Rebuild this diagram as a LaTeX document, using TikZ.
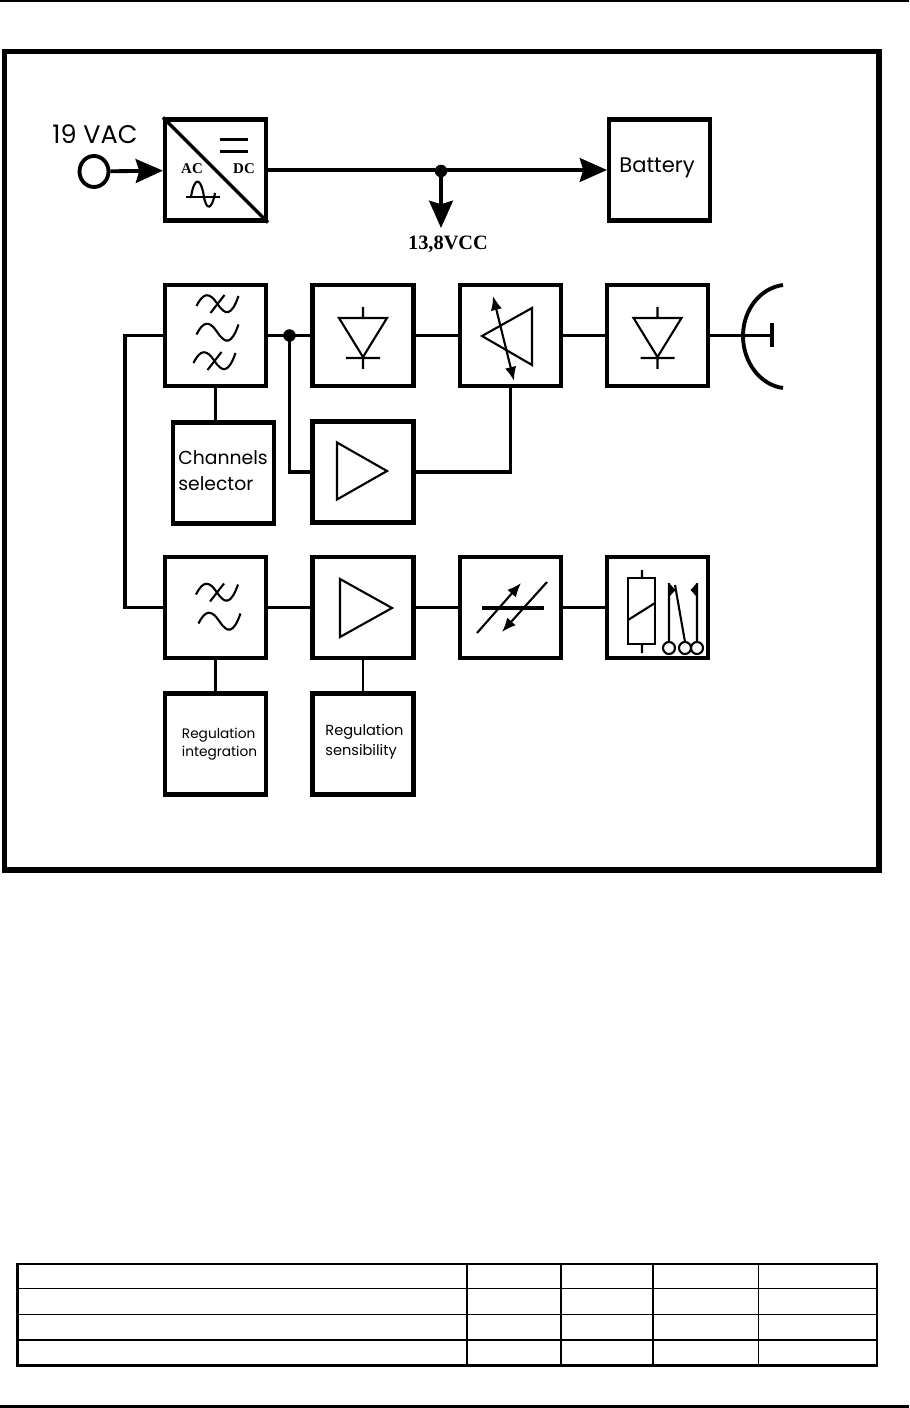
\documentclass[tikz,border=0pt]{standalone}
\usepackage{fontspec}
\setmainfont{Poppins}
\newfontfamily\labelserif{Liberation Serif}
\usetikzlibrary{arrows.meta,positioning,shapes.geometric,calc}
\tikzset{
  block/.style={draw, line width=2.3pt, minimum size=2.02cm, inner sep=0pt},
  wire/.style={line width=2.2pt},
  thinwire/.style={line width=1.2pt},
  sym/.style={line width=1.2pt, line join=miter},
  dot/.style={circle, fill=black, minimum size=0.25cm, inner sep=0pt},
  bigtip/.style={-{Stealth[length=15.5pt,width=13.5pt,inset=2pt]}},
  smalltip/.style={line width=1.2pt},
  grid/.style={line width=1pt}
}
\newcommand{\wavesym}[2]{% centre of one wave
  \draw[sym, shift={(#1,#2)}] (-21,2) .. controls (-14,-12) and (-8,-12) .. (0,0)
    .. controls (8,12) and (14,12) .. (21,-8);}
\newcommand{\strikesym}[2]{% wave with a slash
  \wavesym{#1}{#2}
  \draw[sym, shift={(#1,#2)}] (-7,9) -- (7,-9);}
\newcommand{\diodesym}[1]{% diode in a block
  \draw[sym, shift={(#1.center)}] (-24,-17.5) -- (24,-17.5) -- (0,21.5) -- cycle
    (0,-28.5) -- (0,-17.5) (-17,22.5) -- (17,22.5) (0,21.5) -- (0,33.5);}
\newcommand{\ampsym}[4]{% triangle: left, right, half height, middle y
  \draw[sym] (#1,#4-#3) -- (#2,#4) -- (#1,#4+#3) -- cycle;}
\begin{document}
\begin{tikzpicture}[x=0.02cm, y=-0.02cm]
    \useasboundingbox (0,0) rectangle (909,1408);

    % Page rules and frame
    \draw[line width=1.2pt] (0,0.8) -- (909,0.8);
    \draw[line width=1.5pt] (0,1406.5) -- (909,1406.5);
    \draw[line width=3pt] (4.5,51.5) rectangle (879,870);

    % Blocks, first row
    \node[block] (acdc) at (215.5,170) {};
    \node[block] (battery) at (659.5,170) {};
    \node[font=\fontsize{12}{14}\selectfont] (batlabel) at (657,168) {Battery};
    % second row
    \node[block] (filterA) at (215.5,335.5) {};
    \node[block] (diodeA) at (363,335.5) {};
    \node[block] (atten) at (510.5,335.5) {};
    \node[block] (diodeB) at (657.5,335.5) {};
    % third row
    \node[block] (selector) at (223.5,473) {};
    \node[align=left, font=\fontsize{10.7}{14.7}\selectfont] (sellabel) at (223,471)
      {Channels\\selector};
    \node[block] (ampA) at (363,472) {};
    % fourth row
    \node[block] (filterB) at (215.5,607.5) {};
    \node[block] (ampB) at (363,607.5) {};
    \node[block] (convert) at (510.5,607.5) {};
    \node[block] (relay) at (657.5,607.5) {};
    % fifth row
    \node[block] (regint) at (215.5,744) {};
    \node[align=left, font=\fontsize{7.8}{10.2}\selectfont] (intlabel) at (219.5,744)
      {Regulation\\integration};
    \node[block] (regsens) at (363,744) {};
    \node[align=left, font=\fontsize{8.3}{11.3}\selectfont] (senslabel) at (364.5,742)
      {Regulation\\sensibility};

    % Input and power rail
    \node[ellipse, draw, line width=2.2pt, minimum width=0.58cm, minimum height=0.62cm,
          inner sep=0pt] (input) at (94,171.5) {};
    \node[anchor=center, font=\fontsize{14.5}{16}\selectfont] (inlabel) at (95,134) {19 VAC};
    \node[dot] (tap) at (441,171) {};
    \coordinate (vcc) at (441,228);
    \node[font=\fontsize{11.6}{13}\selectfont\labelserif\bfseries] (vcclabel) at (448,244) {13,8VCC};
    \draw[wire, bigtip] (input) -- (acdc);
    \draw[wire, bigtip] (acdc) -- (battery);
    \draw[wire, bigtip] (tap.center) -- (vcc);

    % Signal connectors
    \node[dot] (split) at (289.5,335.5) {};
    \coordinate (busB) at (125,607.5);
    \coordinate (feed) at (772,335.5);
    \foreach \a/\b in {filterA/diodeA, diodeA/atten, atten/diodeB, diodeB/feed,
                       filterB/ampB, ampB/convert, convert/relay}{
      \draw[wire] (\a) -- (\b);
    }
    \draw[wire] (split.center) |- (ampA.west);
    \draw[wire] (ampA.east) -| (atten.south);
    \draw[wire] (filterA.west) -| (busB) -- (filterB.west);
    \draw[wire] (filterA.south) -- (filterA.south |- selector.north);
    \draw[thinwire] (filterB) -- (regint);
    \draw[thinwire] (ampB) -- (regsens);

    % Dish
    \draw[wire] (783,285) .. controls (760,288) and (743,310) .. (743,336)
      .. controls (743,362) and (760,385) .. (783,388);
    \draw[line width=2.4pt] (feed) ++(0,-12) -- ++(0,24);

    % AC/DC symbol
    \draw[line width=2pt] (acdc.north west) -- (acdc.south east);
    \draw[sym] (220,139.5) -- (248,139.5) (220,151.5) -- (248,151.5);
    \node[font=\fontsize{8.5}{10}\selectfont\labelserif\bfseries] (aclabel) at (192,169) {AC};
    \node[font=\fontsize{8.5}{10}\selectfont\labelserif\bfseries] (dclabel) at (244,169) {DC};
    \draw[sym] (186,197) -- (220,197);
    \draw[sym] (191,197) .. controls (194,178) and (200,176) .. (203.5,194)
      .. controls (206,212) and (212,210) .. (215,193);

    % Filters
    \strikesym{217.5}{304}
    \wavesym{217.5}{332.5}
    \strikesym{214.5}{361}
    \strikesym{217}{592.5}
    \wavesym{219.5}{621.5}

    % Diodes and amplifiers
    \diodesym{diodeA}
    \diodesym{diodeB}
    \ampsym{337}{387}{28.5}{471}
    \ampsym{340}{392}{29}{608}

    % Attenuator
    \draw[sym] (482,336) -- (532,308) -- (532,365) -- cycle;
    \draw[smalltip, {Latex[length=8pt,width=6.5pt]}-{Latex[length=8pt,width=6.5pt]}] (493,296) -- (514,381);

    % Converter
    \draw[line width=2.2pt] (482,608) -- (544,608);
    \draw[smalltip, -{Latex[length=8pt,width=6.5pt]}] (477,633) -- (521,583);
    \draw[smalltip, -{Latex[length=8pt,width=6.5pt]}] (547,582) -- (502,632);

    % Relay
    \draw[sym] (628,578) rectangle (655,644);
    \draw[sym] (642,570) -- (642,578) (642,644) -- (642,653) (628,620) -- (655,603);
    \foreach \x in {669,685,697}{
      \draw[sym] (\x,648) circle (6);
    }
    \draw[sym] (669,642) -- (669,583) (697,642) -- (697,583) (685,642) -- (675,585);
    \fill (669,583) -- (669,597) -- (675.5,590) -- cycle;
    \fill (697,583) -- (697,597) -- (690.5,590) -- cycle;

    % Table
    \draw[line width=1.2pt] (17.5,1264) rectangle (877,1365.5);
    \foreach \y in {1288.5,1314.5,1340}{
      \draw[grid] (17.5,\y) -- (877,\y);
    }
    \foreach \x in {467,561,653}{
      \draw[grid] (\x,1264) -- (\x,1365.5);
    }
    \draw[line width=0.6pt] (758.5,1264) -- (758.5,1365.5);
\end{tikzpicture}
\end{document}
